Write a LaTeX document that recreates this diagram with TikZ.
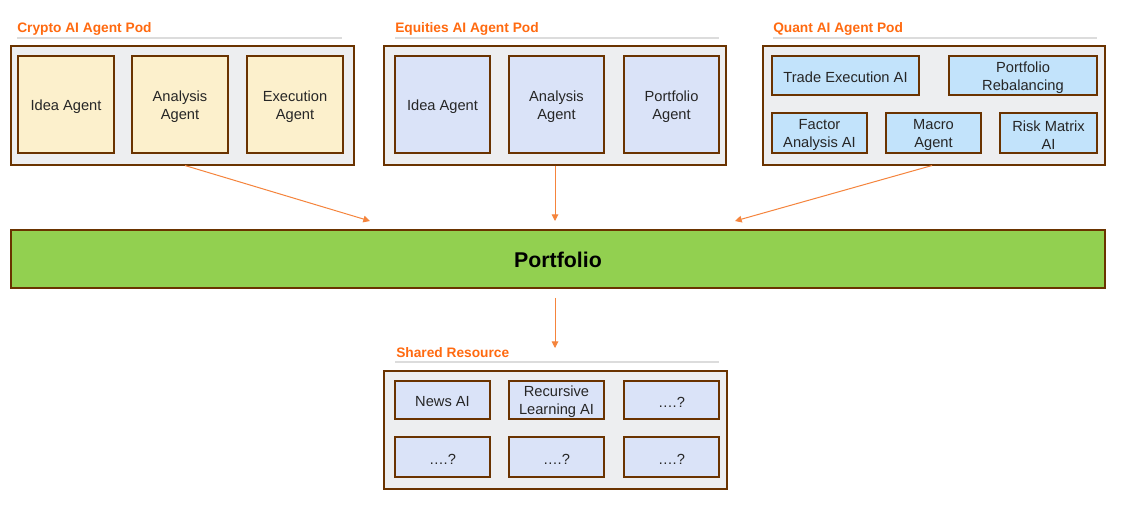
\documentclass[tikz,border=0pt]{standalone}
\usepackage{fontspec}
\setmainfont{Liberation Sans}
\usetikzlibrary{fit,arrows.meta}
\definecolor{brn}{HTML}{6A3300}
\definecolor{podfill}{HTML}{EDEEF0}
\definecolor{ylw}{HTML}{FCF0CC}
\definecolor{lav}{HTML}{DAE3F8}
\definecolor{sky}{HTML}{C2E3FB}
\definecolor{org}{HTML}{FF6A10}
\definecolor{arrc}{HTML}{F5843C}
\definecolor{grn}{HTML}{92D050}
\definecolor{rule}{HTML}{DCDCDC}
\tikzset{
  pod/.style={draw=brn,fill=podfill,line width=0.8pt,inner sep=0pt},
  agent/.style={draw=brn,line width=0.8pt,inner sep=0pt},
  ya/.style={agent,fill=ylw},
  la/.style={agent,fill=lav},
  sa/.style={agent,fill=sky},
  txt/.style={inner sep=0pt,align=center,yshift=-1.5pt,font=\fontsize{11}{13.2}\selectfont,text=black!85},
  podtitle/.style={anchor=west,inner sep=0pt,yshift=-1.2pt,text=org,font=\fontsize{10.3}{12}\selectfont\bfseries},
  titlerule/.style={draw=rule,line width=0.8pt},
  arr/.style={draw=arrc,line width=0.75pt,-{Triangle[width=5pt,length=5pt]}}
}
\begin{document}
\begin{tikzpicture}[x=0.75pt,y=-0.75pt]
\useasboundingbox[fill=white] (0,0) rectangle (1126,523);
% Crypto pod
\node[podtitle] (t1) at (17,27) {Crypto AI Agent Pod};
\coordinate (r1a) at (17,38); \coordinate (r1b) at (342,38);
\draw[titlerule] (r1a) -- (r1b);
\node[pod,fit={(11,46)(354,165)}] (crypto) {};
\node[ya,fit={(18,56)(114,153)}] (c1) {};
\node[txt] (c1t) at (c1.center) {Idea Agent};
\node[ya,fit={(132,56)(228,153)}] (c2) {};
\node[txt] (c2t) at (c2.center) {Analysis\\Agent};
\node[ya,fit={(247,56)(343,153)}] (c3) {};
\node[txt] (c3t) at (c3.center) {Execution\\Agent};
% Equities pod
\node[podtitle] (t2) at (395,27) {Equities AI Agent Pod};
\coordinate (r2a) at (395,38); \coordinate (r2b) at (719,38);
\draw[titlerule] (r2a) -- (r2b);
\node[pod,fit={(384,46)(726,165)}] (equities) {};
\node[la,fit={(395,56)(490,153)}] (e1) {};
\node[txt] (e1t) at (e1.center) {Idea Agent};
\node[la,fit={(509,56)(604,153)}] (e2) {};
\node[txt] (e2t) at (e2.center) {Analysis\\Agent};
\node[la,fit={(624,56)(719,153)}] (e3) {};
\node[txt] (e3t) at (e3.center) {Portfolio\\Agent};
% Quant pod
\node[podtitle] (t3) at (773,27) {Quant AI Agent Pod};
\coordinate (r3a) at (773,38); \coordinate (r3b) at (1097,38);
\draw[titlerule] (r3a) -- (r3b);
\node[pod,fit={(763,46)(1105,165)}] (quant) {};
\node[sa,fit={(772,56)(919,95)}] (q1) {};
\node[txt] (q1t) at (q1.center) {Trade Execution AI};
\node[sa,fit={(949,56)(1097,95)}] (q2) {};
\node[txt] (q2t) at (q2.center) {Portfolio\\Rebalancing};
\node[sa,fit={(772,113)(867,153)}] (q3) {};
\node[txt] (q3t) at (q3.center) {Factor\\Analysis AI};
\node[sa,fit={(886,113)(981,153)}] (q4) {};
\node[txt] (q4t) at (q4.center) {Macro\\Agent};
\node[sa,fit={(1000,113)(1097,153)}] (q5) {};
\node[txt] (q5t) at (q5.center) {Risk Matrix\\AI};
% Portfolio
\node[draw=brn,fill=grn,line width=0.8pt,inner sep=0pt,fit={(11,230)(1105,288)}] (port) {};
\node[inner sep=0pt,yshift=-0.8pt,font=\fontsize{16}{18}\selectfont\bfseries] (portt) at (port.center) {Portfolio};
% Shared resource
\node[podtitle] (t4) at (396,351) {Shared Resource};
\coordinate (r4a) at (395,362); \coordinate (r4b) at (719,362);
\draw[titlerule] (r4a) -- (r4b);
\node[pod,fit={(384,371)(727,489)}] (shared) {};
\node[la,fit={(395,381)(490,419)}] (s1) {};
\node[txt] (s1t) at (s1.center) {News AI};
\node[la,fit={(509,381)(604,419)}] (s2) {};
\node[txt] (s2t) at (s2.center) {Recursive\\Learning AI};
\node[la,fit={(624,381)(719,419)}] (s3) {};
\node[txt] (s3t) at (s3.center) {….?};
\node[la,fit={(395,437)(490,477)}] (s4) {};
\node[txt] (s4t) at (s4.center) {….?};
\node[la,fit={(509,437)(604,477)}] (s5) {};
\node[txt] (s5t) at (s5.center) {….?};
\node[la,fit={(624,437)(719,477)}] (s6) {};
\node[txt] (s6t) at (s6.center) {….?};
% Connectors
\coordinate (a1s) at (185,165); \coordinate (a1e) at (370,221);
\coordinate (a2s) at (555,165); \coordinate (a2e) at (555,221);
\coordinate (a3s) at (932,165); \coordinate (a3e) at (735,221);
\coordinate (a4s) at (555,298); \coordinate (a4e) at (555,348);
\draw[arr] (crypto.south -| a1s) -- (a1e);
\draw[arr] (equities.south -| a2s) -- (a2e);
\draw[arr] (quant.south -| a3s) -- (a3e);
\draw[arr] (a4s) -- (a4e);
\end{tikzpicture}
\end{document}
